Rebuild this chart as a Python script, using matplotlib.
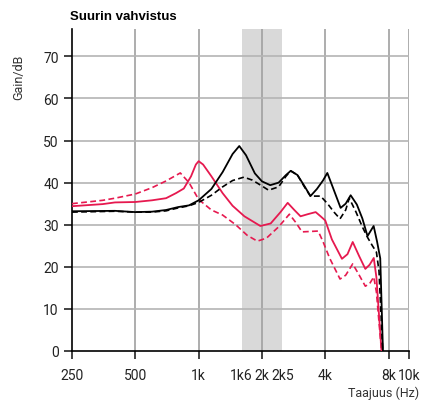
import matplotlib
matplotlib.use('Agg')
import matplotlib.pyplot as plt
from matplotlib.ticker import FixedLocator, NullLocator

# data (Hz, dB)
black_f = [250, 400, 500, 600, 700, 800, 900, 1000, 1150, 1300, 1450, 1560, 1680, 1850, 2000, 2190,
           2400, 2600, 2740, 2950, 3200, 3400, 3650, 3900, 4090, 4350, 4730, 5000, 5280, 5650,
           6000, 6350, 6790, 7050, 7300, 7520]
black_g = [33.2, 33.3, 33.0, 33.1, 33.5, 34.2, 34.6, 35.8, 38.5, 42.5, 46.8, 48.7, 46.5, 42.2, 40.3, 39.4,
           40.0, 41.8, 42.8, 41.8, 39.0, 36.8, 38.5, 40.5, 42.3, 38.8, 34.0, 35.0, 37.0, 34.8,
           31.5, 27.3, 29.7, 26.0, 22.0, 0.0]

black_d_f = [250, 400, 500, 600, 700, 800, 900, 1000, 1150, 1300, 1450, 1640, 1800, 2000, 2150,
             2400, 2600, 2740, 2950, 3200, 3400, 3800, 4100, 4400, 4700, 5000, 5200, 5600,
             6000, 6350, 6700, 7000, 7200, 7500]
black_d_g = [33.0, 33.2, 33.0, 33.0, 33.3, 34.0, 34.5, 35.3, 37.0, 39.0, 40.5, 41.3, 40.6, 39.2, 38.2,
             39.0, 41.5, 42.8, 41.8, 38.8, 36.8, 36.8, 35.0, 33.0, 31.4, 33.5, 36.3, 33.0,
             29.5, 27.0, 25.0, 23.5, 19.0, 0.0]

red_f = [250, 350, 400, 500, 600, 700, 780, 850, 920, 970, 1000, 1050, 1150, 1300, 1450, 1650, 1965,
         2200, 2450, 2650, 2850, 3050, 3300, 3600, 3800, 4000, 4300, 4800, 5100, 5400, 5800,
         6200, 6500, 6800, 7000, 7400]
red_g = [34.4, 34.9, 35.3, 35.4, 35.8, 36.3, 37.5, 38.6, 41.5, 44.3, 45.1, 44.3, 41.5, 37.5, 34.5, 32.0, 29.7,
         30.3, 33.0, 35.2, 33.5, 32.0, 32.5, 33.0, 32.0, 31.0, 26.5, 21.9, 23.0, 25.9, 22.5,
         19.5, 20.5, 22.1, 17.5, 0.0]

red_d_f = [250, 350, 400, 500, 600, 700, 818, 900, 1000, 1150, 1300, 1500, 1700, 1900, 2100,
           2400, 2700, 2900, 3100, 3400, 3700, 3900, 4200, 4700, 5000, 5400, 5800,
           6200, 6500, 6800, 7000, 7400]
red_d_g = [35.0, 35.8, 36.3, 37.3, 38.8, 40.4, 42.3, 40.0, 36.0, 33.5, 32.3, 30.0, 27.5, 26.1, 26.8,
           29.5, 32.5, 30.5, 28.3, 28.4, 28.5, 26.0, 22.0, 17.1, 18.0, 20.7, 18.0,
           15.4, 16.0, 17.6, 14.0, 0.0]

tick_pos = [250, 500, 1000, 1600, 2000, 2500, 4000, 8000, 10000]
tick_lab = ['250', '500', '1k', '1k6', '2k', '2k5', '4k', '8k', '10k']
grid_pos = [500, 1000, 2000, 4000, 8000, 10000]
band = (1600, 2500)

plt.rcParams['font.family'] = ['Roboto', 'DejaVu Sans']

red = '#e6194f'
fig = plt.figure(figsize=(4.21, 4.02), dpi=100)
ax = fig.add_axes([72 / 421, 50 / 402, 337 / 421, 322 / 402])

ax.axvspan(band[0], band[1], color='#d9d9d9', zorder=0, lw=0)
for g in grid_pos:
    ax.axvline(g, color='#a0a0a0', lw=1.2, zorder=1)
for y in range(10, 80, 10):
    ax.axhline(y, color='#b4b4b4', lw=1.2, zorder=1)

ax.plot(red_d_f, red_d_g, color=red, lw=1.2, ls=(0, (3.5, 2)), zorder=3)
ax.plot(red_f, red_g, color=red, lw=1.3, zorder=3)
ax.plot(black_d_f, black_d_g, color='black', lw=1.2, ls=(0, (3.5, 2)), zorder=4)
ax.plot(black_f, black_g, color='black', lw=1.3, zorder=4)

ax.set_xscale('log')
ax.set_xlim(250, 10000)
ax.set_ylim(0, 76.5)
ax.xaxis.set_major_locator(FixedLocator(tick_pos))
ax.xaxis.set_minor_locator(NullLocator())
ax.set_xticklabels(tick_lab)
ax.set_yticks(range(0, 80, 10))

for s in ['top', 'right']:
    ax.spines[s].set_visible(False)
ax.spines['left'].set_linewidth(1.2)
ax.spines['bottom'].set_linewidth(1.2)
ax.tick_params(axis='both', direction='out', length=6, width=1.2, labelsize=10, colors='#222222')
ax.tick_params(axis='x', pad=6)
for t, p in zip(ax.xaxis.get_major_ticks(), tick_pos):
    if p in (1600, 2500):
        t.tick1line.set_visible(False)

fig.text(70 / 421, 1 - 17 / 402, 'Suurin vahvistus', fontsize=9.5, fontweight='bold', va='center', ha='left',
         family=['Liberation Sans', 'DejaVu Sans'])
fig.text(19 / 421, 1 - 77 / 402, 'Gain/dB', fontsize=9, rotation=90, va='center', ha='center', color='#333333')
fig.text(419 / 421, 1 - 393 / 402, 'Taajuus (Hz)', fontsize=9, va='center', ha='right', color='#333333')

fig.savefig('out.png', dpi=100)
